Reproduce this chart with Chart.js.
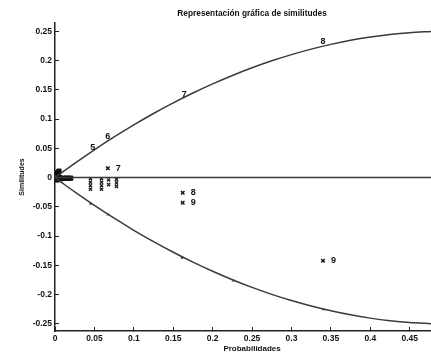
<!DOCTYPE html>
<html>
<head>
<meta charset="utf-8">
<script src="https://cdn.jsdelivr.net/npm/chart.js@4.4.0/dist/chart.umd.min.js"></script>
<style>
  html,body{margin:0;padding:0;background:#fff;overflow:hidden;}
  canvas{display:block;}
</style>
</head>
<body>
<canvas id="myChart" width="431" height="354"></canvas>
<script>
// curves
var curveX = [0, 0.01, 0.025, 0.05, 0.075, 0.1, 0.125, 0.15, 0.175, 0.2, 0.225, 0.25, 0.275, 0.3, 0.325, 0.35, 0.375, 0.4, 0.425, 0.45, 0.477];
var upperY = [0, 0.0099, 0.0244, 0.0475, 0.0694, 0.09, 0.1094, 0.1275, 0.1444, 0.16, 0.1744, 0.1875, 0.1994, 0.21, 0.2194, 0.2275, 0.2344, 0.24, 0.2444, 0.2475, 0.2495];
var lowerY = [0, -0.0099, -0.0244, -0.0475, -0.0694, -0.09, -0.1094, -0.1275, -0.1444, -0.16, -0.1744, -0.1875, -0.1994, -0.21, -0.2194, -0.2275, -0.2344, -0.24, -0.2444, -0.2475, -0.2495];

// numbered marks on upper curve
var upX = [0.048, 0.067, 0.164, 0.34];
var upY = [0.052, 0.07, 0.142, 0.232];
var upLabels = ['5', '6', '7', '8'];

// small marks on lower curve
var lowX = [0.045, 0.067, 0.161, 0.226, 0.34];
var lowY = [-0.045, -0.063, -0.137, -0.176, -0.225];

// labelled crosses
var crossX = [0.067, 0.162, 0.162, 0.34];
var crossY = [0.016, -0.026, -0.043, -0.142];
var crossLabels = ['7', '8', '9', '9'];

// crowded crosses just under zero
var clusterX = [0.045, 0.045, 0.045, 0.045, 0.059, 0.059, 0.059, 0.059, 0.068, 0.068, 0.078, 0.078, 0.078];
var clusterY = [-0.002, -0.008, -0.014, -0.02, -0.002, -0.008, -0.014, -0.02, -0.004, -0.012, -0.003, -0.009, -0.015];

// blob near the origin
var originX = [0.002, 0.004, 0.006, 0.008, 0.011, 0.014, 0.017, 0.02, 0.003, 0.005];
var originY = [0.008, 0.004, 0.0, -0.002, -0.001, -0.001, -0.001, -0.001, -0.004, 0.011];

var xTicks = [0, 0.05, 0.1, 0.15, 0.2, 0.25, 0.3, 0.35, 0.4, 0.45];
var yTicks = [0.25, 0.2, 0.15, 0.1, 0.05, 0, -0.05, -0.1, -0.15, -0.2, -0.25];

var titleText = 'Representación gráfica de similitudes';
var xTitle = 'Probabilidades';
var yTitle = 'Similitudes';

function pts(xs, ys){
  return xs.map(function(x, i){ return {x: x, y: ys[i]}; });
}

var fontFam = "'Liberation Sans', Arial, sans-serif";

// texts: numbered marks, title and axis names (plot was cut at the right, so centre on 0..0.5)
var textMarks = {
  id: 'textMarks',
  afterDatasetsDraw: function(chart){
    var ctx = chart.ctx;
    var xs = chart.scales.x, ys = chart.scales.y;
    ctx.save();
    ctx.fillStyle = '#111';
    ctx.font = 'bold 9px ' + fontFam;
    ctx.textBaseline = 'middle';
    ctx.textAlign = 'center';
    for (var i = 0; i < upX.length; i++) {
      ctx.fillText(upLabels[i], xs.getPixelForValue(upX[i]), ys.getPixelForValue(upY[i]));
    }
    ctx.textAlign = 'left';
    for (var j = 0; j < crossX.length; j++) {
      ctx.fillText(crossLabels[j], xs.getPixelForValue(crossX[j]) + 8, ys.getPixelForValue(crossY[j]));
    }
    var cx = xs.getPixelForValue(0.25);
    ctx.textAlign = 'center';
    ctx.font = 'bold 8.3px ' + fontFam;
    ctx.fillText(titleText, cx, 14);
    ctx.font = 'bold 8px ' + fontFam;
    ctx.fillText(xTitle, cx, 349);
    ctx.translate(22, (chart.chartArea.top + chart.chartArea.bottom) / 2);
    ctx.rotate(-Math.PI / 2);
    ctx.font = 'bold 7px ' + fontFam;
    ctx.fillText(yTitle, 0, 0);
    ctx.restore();
  }
};

var ctx = document.getElementById('myChart');
var myChart = new Chart(ctx, {
  type: 'scatter',
  data: {
    datasets: [
      {data: pts(curveX, upperY), showLine: true, borderColor: '#3a3a3a', borderWidth: 1.5, pointRadius: 0, tension: 0.3},
      {data: pts(curveX, lowerY), showLine: true, borderColor: '#3a3a3a', borderWidth: 1.5, pointRadius: 0, tension: 0.3},
      {data: pts([0, 0.477], [0, 0]), showLine: true, borderColor: '#3a3a3a', borderWidth: 1.5, pointRadius: 0},
      {data: pts(lowX, lowY), pointStyle: 'crossRot', pointRadius: 1.5, borderColor: '#333', borderWidth: 1},
      {data: pts(crossX, crossY), pointStyle: 'crossRot', pointRadius: 2.5, borderColor: '#111', borderWidth: 1.4},
      {data: pts(clusterX, clusterY), pointStyle: 'crossRot', pointRadius: 2.2, borderColor: '#222', borderWidth: 1.4},
      {data: pts(originX, originY), pointStyle: 'rect', pointRadius: 3, backgroundColor: '#111', borderColor: '#111', borderWidth: 1}
    ]
  },
  options: {
    responsive: false,
    animation: false,
    layout: {autoPadding: false, padding: {left: 0, right: 0, top: 23, bottom: 0}},
    plugins: {
      legend: {display: false},
      tooltip: {enabled: false},
      title: {display: false}
    },
    scales: {
      x: {
        type: 'linear',
        min: 0,
        max: 0.477,
        afterBuildTicks: function(s){ s.ticks = xTicks.map(function(v){ return {value: v}; }); },
        afterFit: function(s){ s.height = 23; s.paddingRight = 0; s.paddingLeft = 0; },
        ticks: {color: '#111', font: {family: fontFam, size: 8.5, weight: 'bold'}, padding: 7, maxRotation: 0,
          callback: function(v){ return String(v); }},
        grid: {drawOnChartArea: false, drawTicks: true, tickLength: -4, color: '#222'},
        border: {color: '#222', width: 1.5}
      },
      y: {
        type: 'linear',
        min: -0.262,
        max: 0.264,
        afterBuildTicks: function(s){ s.ticks = yTicks.map(function(v){ return {value: v}; }); },
        afterFit: function(s){ s.width = 55; s.paddingTop = 0; s.paddingBottom = 0; },
        ticks: {color: '#111', font: {family: fontFam, size: 8.5, weight: 'bold'}, padding: 7,
          callback: function(v){ return String(v); }},
        grid: {drawOnChartArea: false, drawTicks: true, tickLength: -4, color: '#222'},
        border: {color: '#222', width: 1.5}
      }
    }
  },
  plugins: [textMarks]
});
</script>
</body>
</html>
